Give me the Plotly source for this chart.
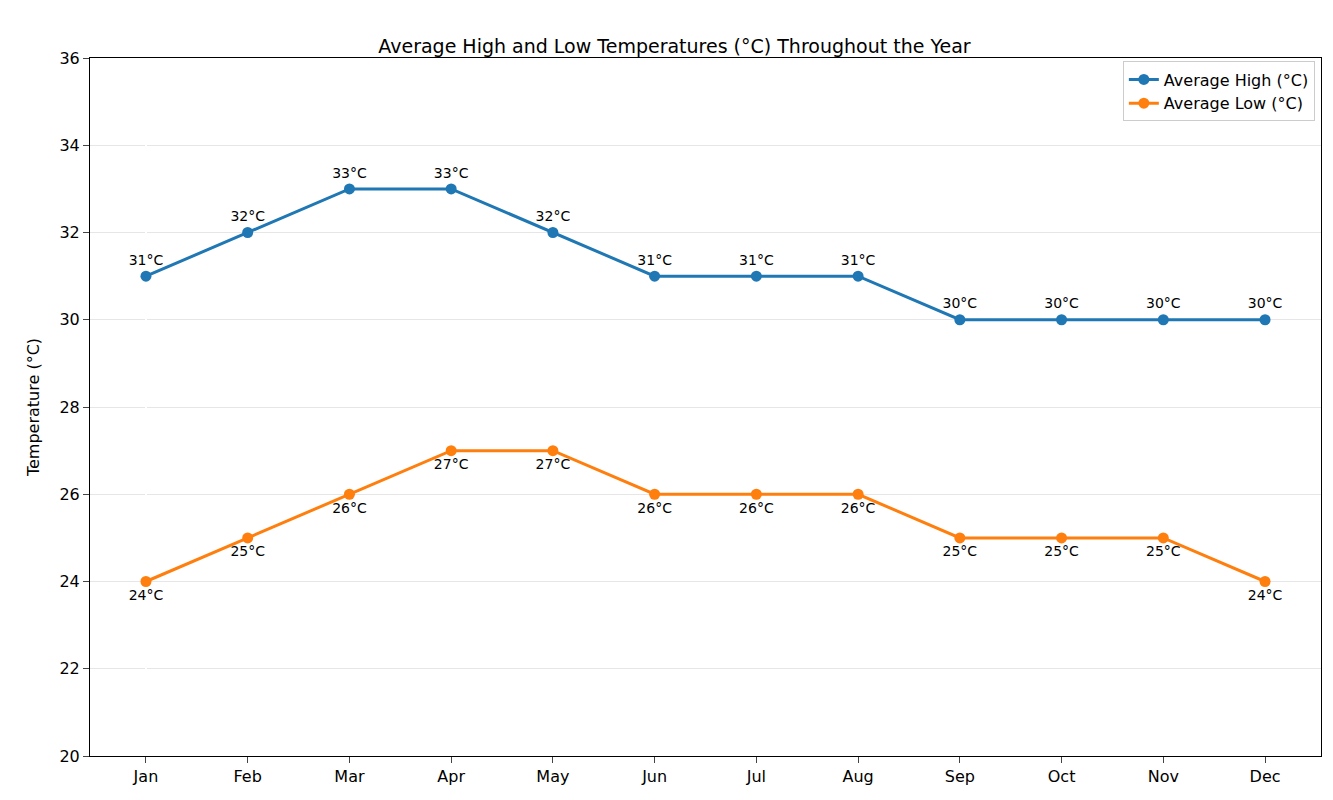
import plotly.graph_objects as go

months = ["Jan","Feb","Mar","Apr","May","Jun","Jul","Aug","Sep","Oct","Nov","Dec"]
highs = [31,32,33,33,32,31,31,31,30,30,30,30]
lows = [24,25,26,27,27,26,26,26,25,25,25,24]

fig = go.Figure()
fig.add_trace(go.Scatter(x=list(range(12)), y=highs, mode="lines+markers+text",
    name="Average High (°C)", line=dict(color="#1f77b4", width=3), marker=dict(size=11),
    text=[f"{v}°C" for v in highs], textposition="top center",
    textfont=dict(size=14, color="black")))
fig.add_trace(go.Scatter(x=list(range(12)), y=lows, mode="lines+markers+text",
    name="Average Low (°C)", line=dict(color="#ff7f0e", width=3), marker=dict(size=11),
    text=[f"{v}°C" for v in lows], textposition="bottom center",
    textfont=dict(size=14, color="black")))

fig.update_layout(
    width=1333, height=800, paper_bgcolor="white", plot_bgcolor="white",
    font=dict(family="DejaVu Sans", size=16, color="black"),
    title=dict(text="Average High and Low Temperatures (°C) Throughout the Year",
               x=0.5, xanchor="center", y=0.96, font=dict(size=19)),
    margin=dict(l=82, r=20, t=50, b=52),
    xaxis=dict(tickmode="array", tickvals=list(range(12)), ticktext=months,
               range=[-0.55, 11.55], showgrid=False, showline=True, mirror=True,
               linecolor="black", ticks="outside", ticklen=6),
    yaxis=dict(range=[20, 36], dtick=2, showgrid=True, gridcolor="#e6e6e6",
               showline=True, mirror=True, linecolor="black", ticks="outside", ticklen=6,
               title=dict(text="Temperature (°C)", font=dict(size=16)), zeroline=False),
    legend=dict(x=0.995, y=0.995, xanchor="right", yanchor="top",
                bordercolor="#cccccc", borderwidth=1, bgcolor="white", font=dict(size=16)),
)
fig.write_html("out.html")
